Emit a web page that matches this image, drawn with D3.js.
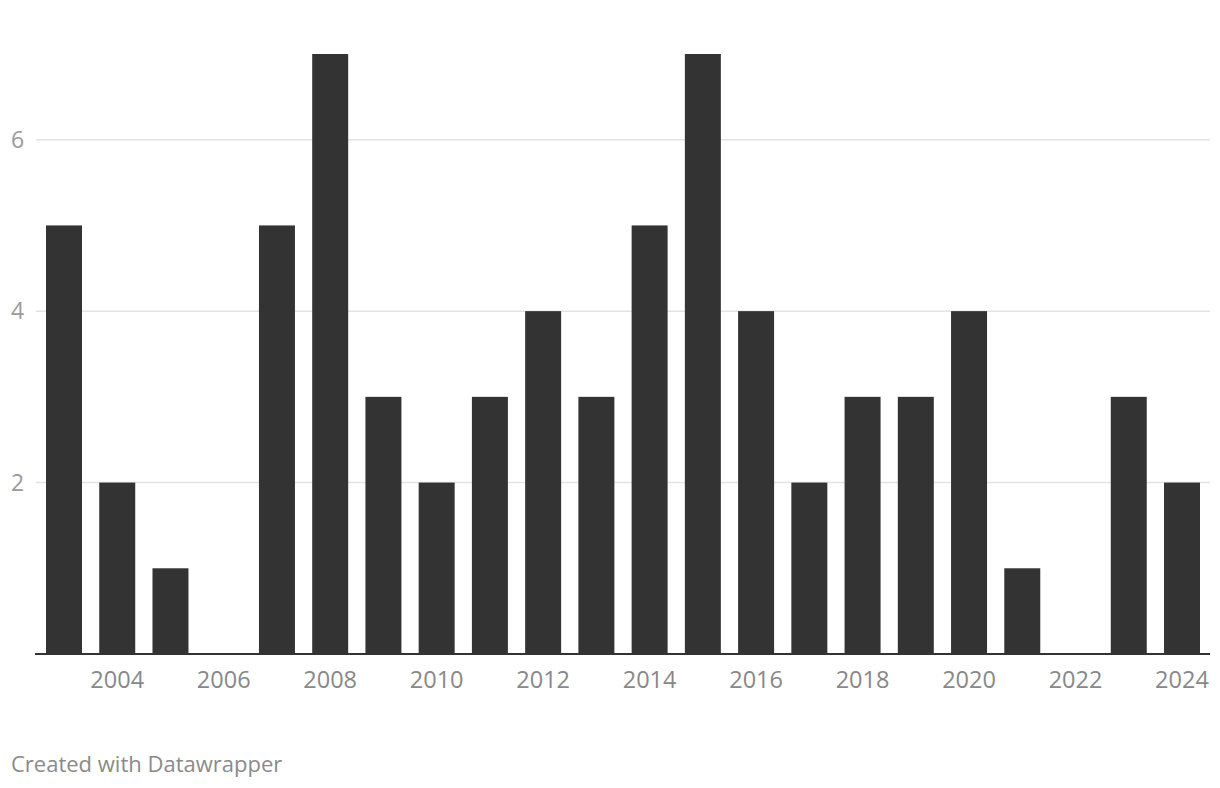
<!DOCTYPE html>
<html><head><meta charset="utf-8">
<script src="https://cdn.jsdelivr.net/npm/d3@7"></script>
<style>body{margin:0;background:#fff;}svg{display:block;font-family:"Open Sans",sans-serif;}</style>
</head><body>
<svg id="c" width="1220" height="788"></svg>
<script>
const years = [2003,2004,2005,2006,2007,2008,2009,2010,2011,2012,2013,2014,2015,2016,2017,2018,2019,2020,2021,2022,2023,2024];
const values = [5,2,1,0,5,7,3,2,3,4,3,5,7,4,2,3,3,4,1,0,3,2];
const yTicks = [2,4,6];
const xTickYears = [2004,2006,2008,2010,2012,2014,2016,2018,2020,2022,2024];
const footer = "Created with Datawrapper";

const svg = d3.select("#c");
const x = d3.scaleBand().domain(years).range([36,1210]).paddingInner(0.324).paddingOuter(0.188);
const y = d3.scaleLinear().domain([0,7]).range([654,54]);

const grid = svg.append("g");
grid.selectAll("line").data(yTicks).join("line")
  .attr("x1",36).attr("x2",1210).attr("y1",d=>y(d)).attr("y2",d=>y(d))
  .attr("stroke","#e3e3e3").attr("stroke-width",1.5);
grid.selectAll("text").data(yTicks).join("text")
  .attr("x",11).attr("y",d=>y(d)).attr("dy","0.35em")
  .attr("font-size",23).attr("fill","#9a9a9a").text(d=>d);

svg.append("g").selectAll("rect").data(values).join("rect")
  .attr("x",(d,i)=>x(years[i])).attr("width",x.bandwidth())
  .attr("y",d=>y(d)).attr("height",d=>y(0)-y(d))
  .attr("fill","#333333");

svg.append("line").attr("x1",35).attr("x2",1210).attr("y1",y(0)).attr("y2",y(0))
  .attr("stroke","#333").attr("stroke-width",2);

svg.append("g").selectAll("text").data(xTickYears).join("text")
  .attr("x",d=>x(d)+x.bandwidth()/2).attr("y",688)
  .attr("text-anchor","middle").attr("font-size",23.5).attr("fill","#888").text(d=>d);

svg.append("text").attr("x",11).attr("y",772).attr("font-size",22).attr("fill","#8a8a8a").text(footer);
</script>
</body></html>
